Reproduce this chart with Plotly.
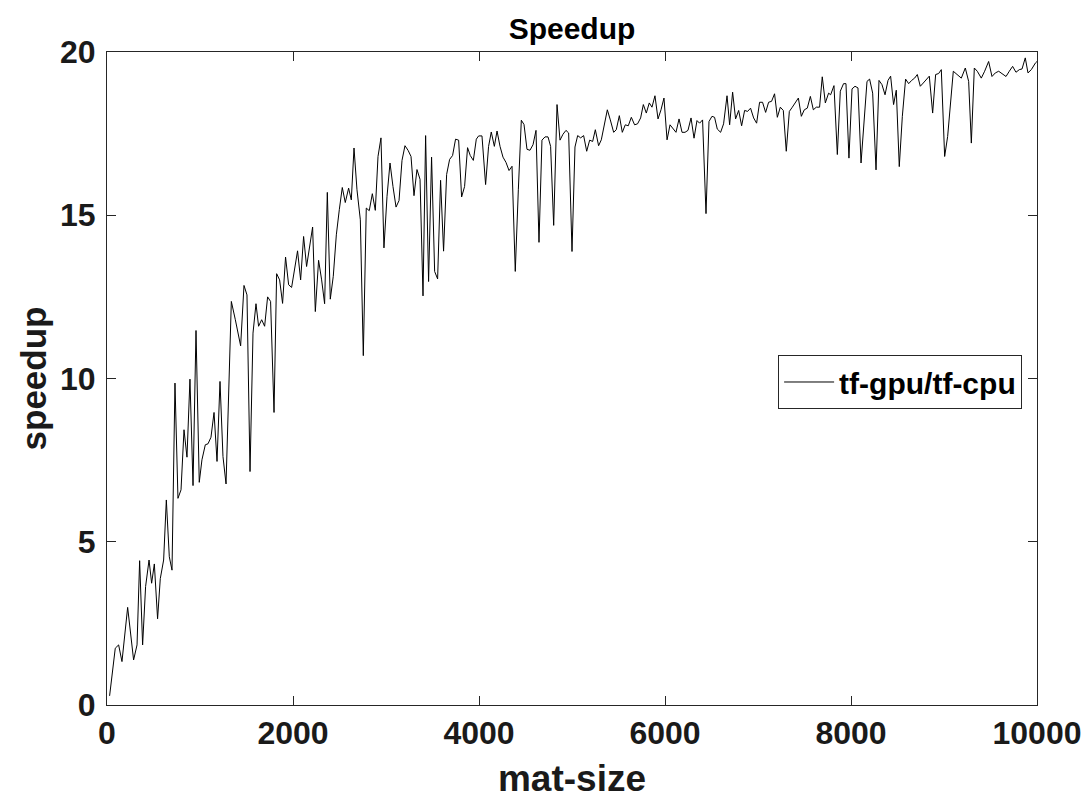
import plotly.graph_objects as go

mat_size = [
    28, 89, 125, 161, 222, 286, 323, 351, 383, 415, 452, 480, 509, 544, 573, 609, 638, 670, 699, 731,
    763, 796, 828, 860, 892, 925, 957, 992, 1021, 1057, 1086, 1118, 1151, 1183, 1215, 1247, 1280,
    1337, 1380, 1437, 1473, 1505, 1538, 1570, 1602, 1630, 1663, 1695, 1727, 1759, 1796, 1824, 1856,
    1888, 1920, 1953, 1985, 2017, 2049, 2082, 2114, 2146, 2178, 2211, 2240, 2275, 2308, 2340, 2369,
    2401, 2433, 2466, 2498, 2530, 2562, 2598,
    2627, 2656, 2688, 2724, 2756, 2788, 2820, 2853, 2885, 2914, 2946, 2978, 3011, 3043, 3075, 3108,
    3140, 3172, 3204, 3237, 3269, 3301, 3333, 3366, 3398, 3426, 3458, 3490, 3523, 3555, 3587, 3619,
    3652, 3684, 3716, 3748, 3781, 3813, 3845, 3877, 3906,
    3939, 3971, 3996, 4032, 4071, 4103, 4132, 4165, 4194, 4226, 4258, 4290, 4323, 4355, 4390, 4423,
    4455, 4484, 4516, 4548, 4581, 4613, 4645, 4677, 4710, 4742, 4770, 4803, 4839, 4871, 4903, 4935,
    4964, 5000, 5032, 5061, 5093, 5125, 5158, 5190,
    5222, 5251, 5286, 5315, 5347, 5380, 5412, 5448, 5476, 5509, 5541, 5573, 5605, 5638, 5673, 5705,
    5738, 5767, 5799, 5831, 5860, 5892, 5925, 5957, 5989, 6022, 6054, 6086, 6118, 6151, 6183, 6215,
    6247, 6280, 6312, 6344, 6372, 6404, 6441, 6473,
    6505, 6533, 6562, 6598, 6630, 6667, 6695, 6727, 6759, 6792, 6824, 6856, 6888, 6920, 6953, 6985,
    7017, 7049, 7082, 7114, 7146, 7178, 7208, 7240, 7272, 7304, 7337, 7369, 7401, 7434, 7466, 7498,
    7530, 7563, 7595, 7627, 7662, 7691, 7724, 7759,
    7781, 7817, 7853, 7885, 7920, 7946, 7978, 8011, 8043, 8075, 8108, 8140, 8172, 8200, 8233, 8269,
    8301, 8333, 8366, 8398, 8426, 8458, 8487, 8519, 8552, 8587, 8620, 8652, 8684, 8713, 8745, 8777,
    8810, 8842, 8878, 8910, 8942, 8971, 9007, 9039,
    9100, 9140, 9186, 9229, 9265, 9294, 9326, 9358, 9401, 9437, 9480, 9516, 9552, 9588, 9630, 9667,
    9702, 9738, 9774, 9810, 9839, 9874, 9903, 9939, 9982, 10000,
]

speedup = [
    0.28, 1.74, 1.84, 1.33, 2.99, 1.38, 1.84, 4.42, 1.84, 3.63, 4.44, 3.73, 4.32, 2.64, 3.87, 4.44,
    6.28, 4.54, 4.13, 9.86, 6.33, 6.59, 8.43, 7.59, 9.98, 6.72, 11.47, 6.82, 7.51, 7.97, 8.00, 8.20,
    8.96, 7.46, 9.91, 7.61, 6.77,
    12.36, 11.80, 11.00, 12.85, 12.56, 7.15, 11.39, 12.29, 11.60, 11.80, 11.60, 12.50, 12.36, 8.96,
    13.21, 13.02, 12.30, 13.72, 12.87, 12.79, 13.33, 13.91, 13.02, 14.35, 13.43, 14.00, 14.64, 12.05,
    13.62, 13.02, 12.29, 15.70, 12.43, 13.13, 14.40, 15.17, 15.85, 15.39, 15.83,
    15.47, 17.06, 15.78, 14.86, 10.70, 15.22, 15.14, 15.66, 15.15, 16.80, 17.37, 14.00, 15.58, 16.60,
    15.88, 15.25, 15.45, 16.68, 17.13, 16.99, 16.80, 15.60, 16.40, 16.10, 12.53, 17.44, 12.97, 16.78,
    13.28, 13.05, 16.07, 13.90, 16.25, 16.71, 16.83, 17.33, 17.30, 15.56, 15.88, 17.07, 16.83,
    16.68, 17.33, 17.43, 17.43, 15.94, 17.11, 17.55, 17.11, 17.58, 17.11, 16.78, 16.62, 16.37, 16.50,
    13.28, 15.78, 17.91, 17.78, 17.02, 16.99, 17.16, 17.60, 14.17, 17.30, 17.40, 17.40, 17.11, 14.69,
    18.39, 17.30, 17.48, 17.60, 17.52, 13.89, 17.09, 17.44, 17.37, 17.44, 16.96, 17.30,
    17.26, 17.62, 17.13, 17.31, 17.80, 18.23, 17.92, 17.54, 17.62, 18.05, 17.54, 17.77, 17.74, 18.00,
    17.77, 17.80, 17.98, 18.39, 18.13, 18.44, 18.31, 18.66, 17.95, 18.23, 18.59, 17.31, 17.77, 17.67,
    17.54, 17.95, 17.54, 17.54, 17.60, 17.98, 17.36, 17.90, 17.82, 17.92, 15.05, 17.87,
    18.03, 18.00, 17.64, 17.54, 17.80, 18.66, 17.77, 18.77, 17.95, 18.21, 17.74, 18.21, 18.18, 18.28,
    17.98, 17.82, 18.46, 18.46, 18.15, 18.46, 18.49, 18.72, 18.00, 18.31, 18.21, 16.96, 18.18, 18.31,
    18.44, 18.59, 18.03, 18.23, 18.28, 18.64, 18.23, 18.31, 18.31, 19.24, 18.44, 18.74,
    18.69, 18.97, 16.86, 18.80, 19.03, 19.03, 16.75, 18.87, 18.95, 18.90, 16.60, 18.03, 19.10, 19.17,
    18.74, 16.39, 19.13, 19.00, 18.69, 19.13, 19.26, 18.39, 18.83, 16.49, 18.03, 19.17, 19.03, 19.13,
    19.20, 19.31, 18.95, 19.05, 19.17, 19.26, 18.13, 19.31, 19.34, 19.46, 16.80, 17.41,
    19.41, 19.31, 19.20, 19.51, 19.10, 17.21, 19.51, 19.41, 19.20, 19.41, 19.71, 19.25, 19.36, 19.41,
    19.31, 19.25, 19.41, 19.56, 19.38, 19.46, 19.48, 19.82, 19.36, 19.46, 19.66, 19.71,
]

x_ticks = [0, 2000, 4000, 6000, 8000, 10000]
x_tick_text = ["0", "2000", "4000", "6000", "8000", "10000"]
y_ticks = [0, 5, 10, 15, 20]
y_tick_text = ["0", "5", "10", "15", "20"]

FONT = "Liberation Sans, Arial, Helvetica, sans-serif"
AX = "#262626"
TXT = "#1a1a1a"

fig = go.Figure()
fig.add_trace(go.Scatter(
    x=mat_size, y=speedup, mode="lines", name="tf-gpu/tf-cpu",
    line=dict(color="black", width=1),
))

axis_common = dict(
    showgrid=False, zeroline=False, showline=True, linecolor=AX, linewidth=1,
    mirror="allticks", ticks="inside", ticklen=9, tickwidth=1, tickcolor=AX,
    tickfont=dict(family=FONT, size=32, color=TXT, weight="bold"),
    automargin=False,
)

# the page body adds an 8px offset, so the figure is 8px smaller on each axis
fig.update_layout(
    width=1081, height=796,
    margin=dict(l=99, r=52, t=44, b=99, autoexpand=False),
    paper_bgcolor="white", plot_bgcolor="white",
    title=dict(text="Speedup", x=0.5, xref="paper", xanchor="center",
               y=1 - 20 / 796, yref="container", yanchor="middle",
               font=dict(family=FONT, size=30, color="black", weight="bold")),
    xaxis=dict(range=[0, 10000], tickvals=x_ticks, ticktext=x_tick_text,
               title=dict(text="mat-size", standoff=14,
                          font=dict(family=FONT, size=37, color=TXT, weight="bold")),
               **axis_common),
    yaxis=dict(range=[0, 20], tickvals=y_ticks, ticktext=y_tick_text, ticklabelstandoff=4,
               title=dict(text="speedup", standoff=2,
                          font=dict(family=FONT, size=35, color=TXT, weight="bold")),
               **axis_common),
    showlegend=True,
    legend=dict(x=0.984, y=0.536, xanchor="right", yanchor="top",
                bgcolor="white", bordercolor=AX, borderwidth=1, itemwidth=50,
                font=dict(family=FONT, size=30, color="black", weight="bold")),
)

fig.write_html("out.html")
